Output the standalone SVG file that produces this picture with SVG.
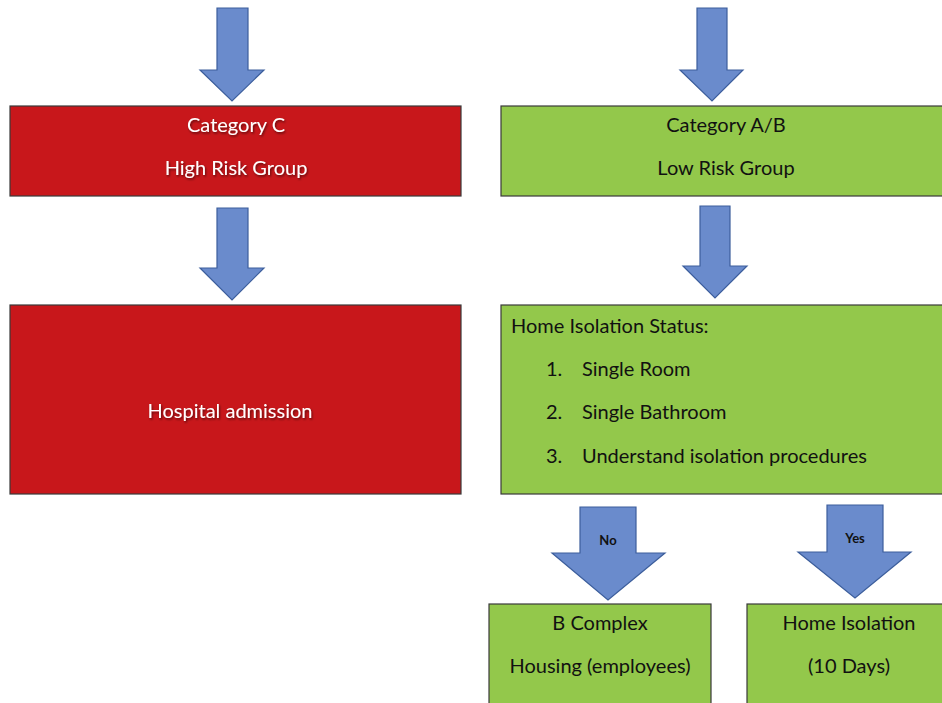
<svg xmlns="http://www.w3.org/2000/svg" width="942" height="703" viewBox="0 0 942 703">
<defs>
<filter id="sh" x="-10%" y="-30%" width="120%" height="160%">
<feDropShadow dx="1" dy="1.5" stdDeviation="1" flood-color="#000" flood-opacity="0.55"/>
</filter>
</defs>
<style>
.red{fill:#C8171B;stroke:#3a3a3a;stroke-width:1.2}
.grn{fill:#93C84B;stroke:#3a3a3a;stroke-width:1.2}
.arr{fill:#6A8BCC;stroke:#3C5E9C;stroke-width:1.2}
.wt{font-family:Lato,"Open Sans",sans-serif;font-size:20px;fill:#fff;text-anchor:middle}
.bk{font-family:Lato,"Open Sans",sans-serif;font-size:20px;fill:#111}
.c{text-anchor:middle}
.lbl{font-family:Lato,"Open Sans",sans-serif;font-size:13px;font-weight:bold;fill:#111;text-anchor:middle}
</style>
<g id="connectors">
<path class="arr" d="M217,8 H248 V70 H264 L232,101 L200,70 H217 Z"/>
<path class="arr" d="M217,208 H248 V268 H264 L232,300 L200,268 H217 Z"/>
<path class="arr" d="M697,8 H727 V70 H743 L712,101 L680,70 H697 Z"/>
<path class="arr" d="M700,206 H730 V266 H747 L715,298 L683,266 H700 Z"/>
<path class="arr" d="M580,507 H636 V553 H665 L608,600 L552,553 H580 Z"/>
<path class="arr" d="M827,505 H883 V552 H911 L855,598 L798,552 H827 Z"/>
<text class="lbl" x="608" y="545">No</text>
<text class="lbl" x="855" y="543">Yes</text>
</g>
<g id="catC">
<rect class="red" x="10" y="106" width="451" height="90"/>
<text class="wt" x="236" y="132" filter="url(#sh)">Category C</text>
<text class="wt" x="236" y="175" filter="url(#sh)">High Risk Group</text>
</g>
<g id="hospital">
<rect class="red" x="10" y="305" width="451" height="189"/>
<text class="wt" x="230" y="418" filter="url(#sh)">Hospital admission</text>
</g>
<g id="catAB">
<rect class="grn" x="501" y="106" width="445" height="90"/>
<text class="bk c" x="726" y="132">Category A/B</text>
<text class="bk c" x="726" y="175">Low Risk Group</text>
</g>
<g id="homeStatus">
<rect class="grn" x="501" y="305" width="445" height="189"/>
<text class="bk" x="511" y="333">Home Isolation Status:</text>
<text class="bk" x="546" y="376">1.</text>
<text class="bk" x="582" y="376">Single Room</text>
<text class="bk" x="546" y="419">2.</text>
<text class="bk" x="582" y="419">Single Bathroom</text>
<text class="bk" x="546" y="463">3.</text>
<text class="bk" x="582" y="463">Understand isolation procedures</text>
</g>
<g id="bComplex">
<rect class="grn" x="489" y="604" width="222" height="110"/>
<text class="bk c" x="600" y="630">B Complex</text>
<text class="bk c" x="600" y="673">Housing (employees)</text>
</g>
<g id="homeIsolation">
<rect class="grn" x="747" y="604" width="200" height="110"/>
<text class="bk c" x="849" y="630">Home Isolation</text>
<text class="bk c" x="849" y="673">(10 Days)</text>
</g>
</svg>
